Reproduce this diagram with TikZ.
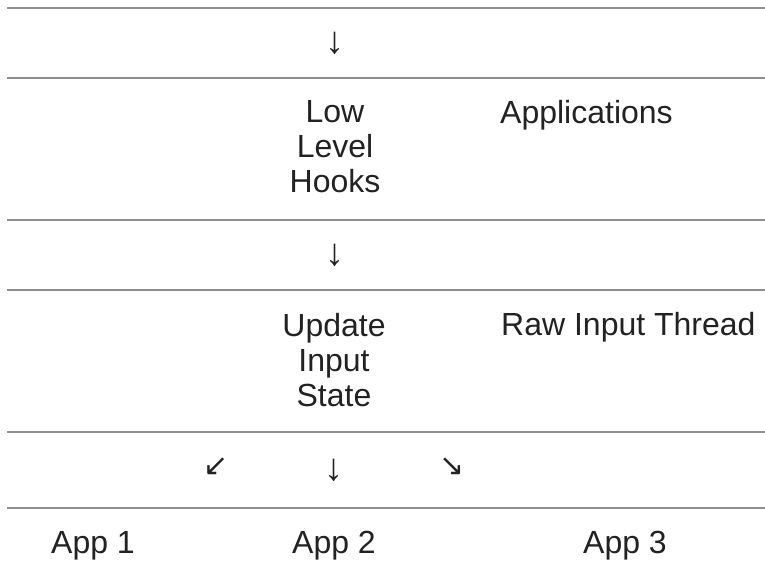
\documentclass[tikz,border=0pt]{standalone}
\usepackage{fontspec}
\setmainfont{Liberation Sans}
\newfontfamily\arrowfont{DejaVu Sans}
\definecolor{rulegray}{HTML}{8E8E8E}
\definecolor{ink}{HTML}{222222}

\begin{document}
\begin{tikzpicture}[x=1pt,y=-1pt,
	rule/.style={draw=rulegray,line width=2.4pt},
	cell/.style={inner sep=0pt,text=ink,align=center,anchor=base,
		font=\fontsize{32}{35}\selectfont},
	arr/.style={inner sep=0pt,text=ink,font=\fontsize{38}{40}\selectfont},
	diag/.style={inner sep=0pt,text=ink,font=\arrowfont\fontsize{30}{32}\selectfont}]
	\useasboundingbox (0,0) rectangle (765,560);

	% table rules
	\foreach \y in {8,78,220,290,432,508}
		\draw[rule] (7,\y) -- (765,\y);

	\begin{scope}[every node/.style={cell}]
		\node (hooks) at (335,192) {Low\\Level\\Hooks};
		\node[anchor=base west] (apps) at (500,123) {Applications};
		\node (update) at (334,406) {Update\\Input\\State};
		\node[anchor=base west] (rawthread) at (501,335) {Raw Input Thread};
		\node (app1) at (93,553) {App 1};
		\node (app2) at (334,553) {App 2};
		\node (app3) at (625,553) {App 3};
	\end{scope}

	% arrows between the rows
	\node[arr] (down1) at (335,43) {↓};
	\node[arr] (down2) at (335,255) {↓};
	\node[arr] (down3) at (334,470) {↓};
	\node[diag] (left3) at (216,467) {↙};
	\node[diag] (right3) at (452,467) {↘};
\end{tikzpicture}
\end{document}
